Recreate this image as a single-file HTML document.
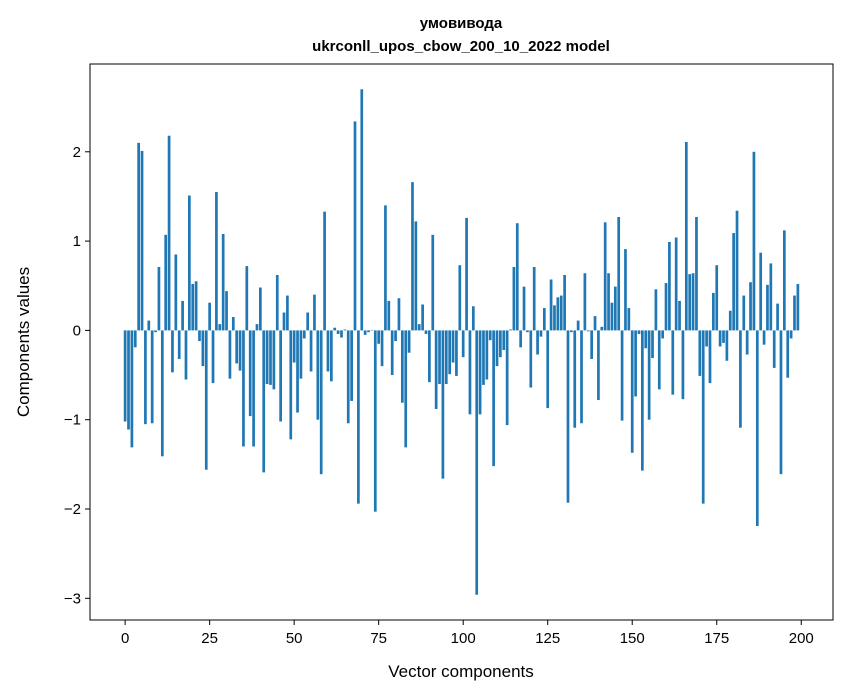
<!DOCTYPE html>
<html><head><meta charset="utf-8"><style>
body{margin:0;background:#fff;}
svg{display:block;font-family:"Liberation Sans","DejaVu Sans",sans-serif;}
</style></head><body>
<svg id="chart" width="847" height="696" xmlns="http://www.w3.org/2000/svg">
<text x="461" y="28" text-anchor="middle" font-size="15" font-weight="bold">умовивода</text>
<text x="461" y="51" text-anchor="middle" font-size="15" font-weight="bold">ukrconll_upos_cbow_200_10_2022 model</text>
<g id="bars"></g>
<g id="xticks"></g>
<g id="yticks"></g>
<rect x="90" y="64" width="743" height="556" fill="none" stroke="#000" stroke-width="1"/>
<text x="461" y="677" text-anchor="middle" font-size="17">Vector components</text>
<text transform="translate(29,342) rotate(-90)" text-anchor="middle" font-size="17">Components values</text>
</svg>
<script>
const values = [-1.02,-1.11,-1.31,-0.19,2.10,2.01,-1.05,0.11,-1.04,-0.02,
0.71,-1.41,1.07,2.18,-0.47,0.85,-0.32,0.33,-0.55,1.51,
0.52,0.55,-0.12,-0.40,-1.56,0.31,-0.59,1.55,0.07,1.08,
0.44,-0.54,0.15,-0.37,-0.45,-1.30,0.72,-0.96,-1.30,0.07,
0.48,-1.59,-0.60,-0.61,-0.66,0.62,-1.02,0.20,0.39,-1.22,
-0.36,-0.92,-0.54,-0.09,0.20,-0.46,0.40,-1.00,-1.61,1.33,
-0.46,-0.57,0.03,-0.04,-0.08,0.01,-1.04,-0.79,2.34,-1.94,
2.70,-0.05,-0.02,0.005,-2.03,-0.15,-0.40,1.40,0.33,-0.50,
-0.12,0.36,-0.81,-1.31,-0.25,1.66,1.22,0.07,0.29,-0.04,
-0.58,1.07,-0.88,-0.60,-1.66,-0.60,-0.49,-0.36,-0.51,0.73,
-0.30,1.26,-0.94,0.27,-2.96,-0.94,-0.61,-0.55,-0.11,-1.52,
-0.40,-0.30,-0.22,-1.06,0.01,0.71,1.20,-0.19,0.49,-0.02,
-0.64,0.71,-0.27,-0.07,0.25,-0.87,0.57,0.28,0.37,0.39,
0.62,-1.93,-0.02,-1.09,0.11,-1.04,0.64,-0.01,-0.32,0.16,
-0.78,0.04,1.21,0.64,0.31,0.49,1.27,-1.01,0.91,0.25,
-1.37,-0.74,-0.04,-1.57,-0.20,-1.00,-0.31,0.46,-0.66,-0.09,
0.53,0.99,-0.72,1.04,0.33,-0.77,2.11,0.63,0.64,1.27,
-0.51,-1.94,-0.18,-0.59,0.42,0.73,-0.18,-0.14,-0.34,0.22,
1.09,1.34,-1.09,0.39,-0.27,0.54,2.00,-2.19,0.87,-0.16,
0.51,0.75,-0.42,0.30,-1.61,1.12,-0.53,-0.09,0.39,0.52];
const xTickLabels = [0,25,50,75,100,125,150,175,200];
const yTickLabels = [-3,-2,-1,0,1,2];

const NS="http://www.w3.org/2000/svg";
const L=90,R=833,T=64,B=620,BW=0.8;
const n=values.length;
const x0=-BW/2, x1=n-1+BW/2, xm=(x1-x0)*0.05;
const xmin=x0-xm, xmax=x1+xm;
const vmin=Math.min(0,...values), vmax=Math.max(0,...values), ym=(vmax-vmin)*0.05;
const ymin=vmin-ym, ymax=vmax+ym;
function xs(v){return L+(v-xmin)/(xmax-xmin)*(R-L);}
function ys(v){return B-(v-ymin)/(ymax-ymin)*(B-T);}
const bars=document.getElementById('bars');
values.forEach((v,i)=>{
  const r=document.createElementNS(NS,'rect');
  const a=xs(i-BW/2), b=xs(i+BW/2);
  r.setAttribute('x',a);
  r.setAttribute('width',b-a);
  r.setAttribute('y',Math.min(ys(v),ys(0)));
  r.setAttribute('height',Math.abs(ys(v)-ys(0)));
  r.setAttribute('fill','#1f77b4');
  
  
  bars.appendChild(r);
});
const xg=document.getElementById('xticks');
xTickLabels.forEach(t=>{
  const x=xs(t);
  const l=document.createElementNS(NS,'line');
  l.setAttribute('x1',x);l.setAttribute('x2',x);l.setAttribute('y1',B);l.setAttribute('y2',B+5);l.setAttribute('stroke','#000');
  
  
  xg.appendChild(l);
  const s=document.createElementNS(NS,'text');
  s.setAttribute('x',x);s.setAttribute('y',B+23);s.setAttribute('text-anchor','middle');s.setAttribute('font-size','15');
  s.textContent=t;
  
  
  xg.appendChild(s);
});
const yg=document.getElementById('yticks');
yTickLabels.forEach(t=>{
  const y=ys(t);
  const l=document.createElementNS(NS,'line');
  l.setAttribute('x1',L-5);l.setAttribute('x2',L);l.setAttribute('y1',y);l.setAttribute('y2',y);l.setAttribute('stroke','#000');
  
  
  yg.appendChild(l);
  const s=document.createElementNS(NS,'text');
  s.setAttribute('x',L-9);s.setAttribute('y',y+5);s.setAttribute('text-anchor','end');s.setAttribute('font-size','15');
  s.textContent=(t<0?'\u2212'+(-t):t);
  
  
  yg.appendChild(s);
});
</script>
</body></html>
